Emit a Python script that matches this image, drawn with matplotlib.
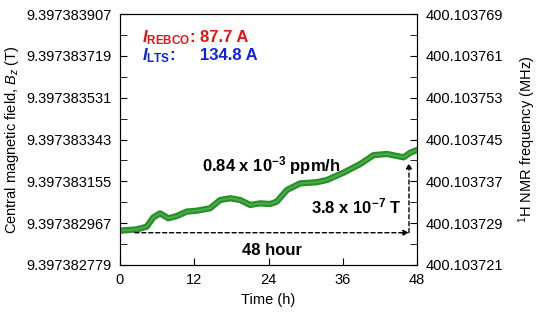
"""Field drift over 48 h with current annotations."""
import matplotlib
matplotlib.use("Agg")
import matplotlib.pyplot as plt
from matplotlib.ticker import FixedLocator, FixedFormatter

plt.rcParams["font.family"] = ["Liberation Sans", "DejaVu Sans"]
plt.rcParams["mathtext.fontset"] = "custom"
plt.rcParams["mathtext.rm"] = "Liberation Sans"
plt.rcParams["mathtext.it"] = "Liberation Sans:italic"
plt.rcParams["mathtext.bf"] = "Liberation Sans:bold"
plt.rcParams["mathtext.bfit"] = "Liberation Sans:bold:italic"

time_h = [0, 2.70, 4.31, 5.39, 6.47, 7.82, 9.17, 10.79, 12.40, 14.56, 16.18,
          17.80, 19.42, 21.03, 22.65, 24.27, 25.35, 26.97, 29.12, 31.82, 33.44,
          36.13, 38.83, 40.99, 43.15, 44.76, 45.84, 46.92, 48.0]
field_T = [9.397382933, 9.397382939, 9.397382951, 9.397382993, 9.397383011,
           9.397382989, 9.397382999, 9.397383019, 9.397383023, 9.397383034,
           9.397383071, 9.397383079, 9.397383071, 9.397383049, 9.397383056,
           9.397383053, 9.397383064, 9.397383116, 9.397383146, 9.397383151,
           9.397383161, 9.397383194, 9.397383233, 9.397383273, 9.397383278,
           9.397383269, 9.397383263, 9.397383284, 9.397383296]

left_ticks = [9.397382779, 9.397382967, 9.397383155, 9.397383343,
              9.397383531, 9.397383719, 9.397383907]
left_labels = ["9.397382779", "9.397382967", "9.397383155", "9.397383343",
               "9.397383531", "9.397383719", "9.397383907"]
right_ticks = [400.103721, 400.103729, 400.103737, 400.103745,
               400.103753, 400.103761, 400.103769]
right_labels = ["400.103721", "400.103729", "400.103737", "400.103745",
                "400.103753", "400.103761", "400.103769"]
x_ticks = [0, 12, 24, 36, 48]

FS = 10.5
fig = plt.figure(figsize=(5.39, 3.19), dpi=100)
ax = fig.add_axes([0.2226, 0.1693, 0.5511, 0.7867])

ax.plot(time_h, field_T, color="#2a8c2a", lw=4.5, solid_capstyle="round")
ax.plot(time_h, field_T, color="#4cb84c", lw=1.5, alpha=0.8)

ax.set_xlim(0, 48)
ax.set_ylim(left_ticks[0], left_ticks[-1])
ax.xaxis.set_major_locator(FixedLocator(x_ticks))
ax.yaxis.set_major_locator(FixedLocator(left_ticks))
ax.yaxis.set_major_formatter(FixedFormatter(left_labels))
mids = [(a + b) / 2 for a, b in zip(left_ticks[:-1], left_ticks[1:])]
ax.yaxis.set_minor_locator(FixedLocator(mids))
ax.tick_params(axis="both", which="both", direction="in", labelsize=FS,
               colors="black")
ax.tick_params(axis="both", which="major", length=5, pad=6)
ax.tick_params(axis="y", which="minor", length=5)
ax.tick_params(axis="y", right=False)
ax.set_xlabel("Time (h)", fontsize=FS)
ax.set_ylabel("Central magnetic field, $\\it{B}_z$ (T)", fontsize=FS)
for s in ax.spines.values():
    s.set_color("#333333")

ax2 = ax.twinx()
ax2.set_ylim(right_ticks[0], right_ticks[-1])
ax2.yaxis.set_major_locator(FixedLocator(right_ticks))
ax2.yaxis.set_major_formatter(FixedFormatter(right_labels))
rmids = [(a + b) / 2 for a, b in zip(right_ticks[:-1], right_ticks[1:])]
ax2.yaxis.set_minor_locator(FixedLocator(rmids))
ax2.tick_params(axis="y", which="both", direction="in", length=5,
                labelsize=FS)
ax2.tick_params(axis="y", which="major", pad=6)
ax2.set_ylabel("$^1$H NMR frequency (MHz)", fontsize=FS, rotation=90,
               va="center")
ax2.yaxis.set_label_coords(1.37, 0.5)

# currents
ax.text(0.075, 0.905, "$\\mathbfit{I}_{\\mathbf{REBCO}}$:", transform=ax.transAxes,
        color="#ee1111", fontsize=12, fontweight="bold", va="center")
ax.text(0.27, 0.905, "87.7 A", transform=ax.transAxes,
        color="#ee1111", fontsize=12, fontweight="bold", va="center")
ax.text(0.075, 0.835, "$\\mathbfit{I}_{\\mathbf{LTS}}$:", transform=ax.transAxes,
        color="#1122dd", fontsize=12, fontweight="bold", va="center")
ax.text(0.27, 0.835, "134.8 A", transform=ax.transAxes,
        color="#1122dd", fontsize=12, fontweight="bold", va="center")

# drift annotations
y_base = 9.397382924
t_start, t_end = 2.4, 46.7
ax.annotate("", xy=(t_end, y_base), xytext=(t_start, y_base),
            arrowprops=dict(arrowstyle="-|>", ls=(0, (3, 2)), lw=1,
                            color="black", mutation_scale=8,
                            shrinkA=0, shrinkB=0))
ax.annotate("", xy=(t_end, 9.397383238), xytext=(t_end, y_base),
            arrowprops=dict(arrowstyle="-|>", ls=(0, (3, 2)), lw=1,
                            color="black", mutation_scale=8,
                            shrinkA=0, shrinkB=0))
ax.text(24.5, 9.397382845, "48 hour", fontsize=12, fontweight="bold",
        ha="center", va="center")
ax.text(45.5, 9.397383040, "3.8 x 10$^{\\mathbf{-7}}$ T", fontsize=12,
        fontweight="bold", ha="right", va="center")
ax.text(24.5, 9.397383225, "0.84 x 10$^{\\mathbf{-3}}$ ppm/h", fontsize=12,
        fontweight="bold", ha="center", va="center")

fig.savefig("out.png", dpi=100)
